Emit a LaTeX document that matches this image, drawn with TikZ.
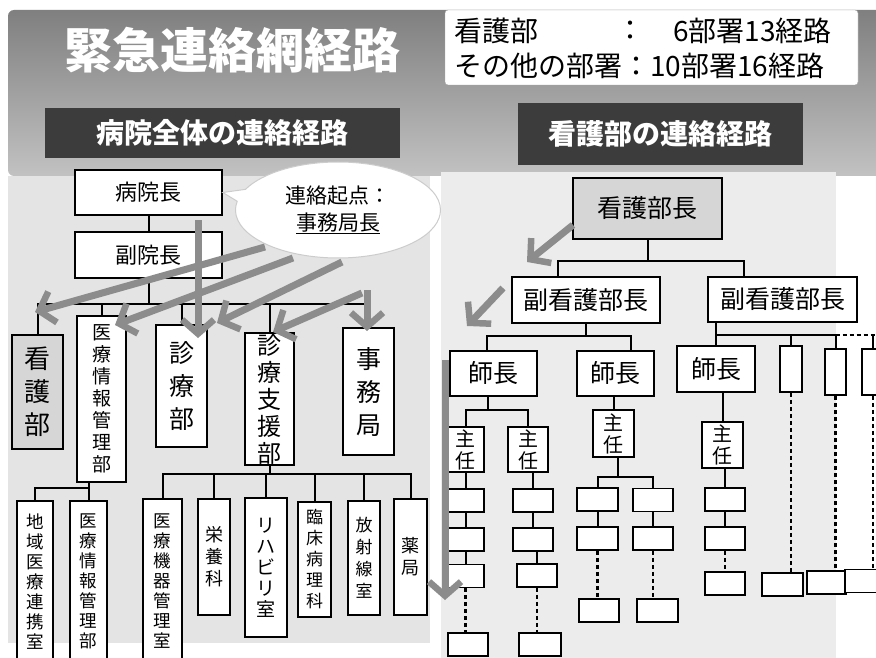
\documentclass[tikz,border=0pt]{standalone}
\usepackage{fontspec}
\setmainfont{Noto Sans CJK JP}
\usetikzlibrary{arrows.meta,shapes.callouts,calc}
\definecolor{agray}{HTML}{8C8C8C}
\definecolor{hdr}{HTML}{3C3C3C}
\definecolor{panelL}{HTML}{E4E4E4}
\definecolor{panelR}{HTML}{ECECEC}
\definecolor{boxgray}{HTML}{D6D6D6}
\newcommand{\fsz}[2]{\fontsize{#1}{#2}\selectfont}
\begin{document}
\begin{tikzpicture}[x=1pt,y=-1pt,
  box/.style={draw=black, line width=1.6pt, fill=white, inner sep=0pt, align=center, text=black},
  conn/.style={draw=black, line width=2pt},
  dconn/.style={draw=black, line width=2.4pt, dash pattern=on 4pt off 3pt},
  garrow/.style={draw=agray, line width=7pt, -{Straight Barb[length=14pt,width=32pt,line width=6.5pt]}},
  hdrbar/.style={fill=hdr, text=white, inner sep=0pt, font=\fsz{28}{28}\bfseries},
  sbox/.style={box, minimum height=23pt},
]
\useasboundingbox (0,0) rectangle (876,658);
% ---------- background ----------
\fill[white] (0,0) rectangle (876,658);
\shade[top color=black!50, bottom color=black!24, rounded corners=6pt] (8,10) rectangle (890,176);
\fill[panelL] (8,176) rectangle (430,643);
\fill[panelR] (441,172) rectangle (836,658);
% ---------- title and info ----------
\node[font=\fsz{48}{48}\bfseries, text=white] (title) at (232,50) {緊急連絡網経路};
\node[draw=black!35, fill=white, rounded corners=3pt, minimum width=413pt, minimum height=75pt, inner sep=0pt] (info) at (651.5,47.5) {};
\node[anchor=west, font=\fsz{28}{28}, inner sep=0pt] (i1a) at (454,31) {看護部};
\node[font=\fsz{28}{28}, inner sep=0pt] (i1b) at (630,31) {：};
\node[anchor=east, font=\fsz{28}{28}, inner sep=0pt] (i1c) at (832,31) {6部署13経路};
\node[anchor=west, font=\fsz{28}{28}, inner sep=0pt] (i2) at (454,66) {その他の部署：10部署16経路};
\node[hdrbar, minimum width=355pt, minimum height=50pt] (h1) at (222.5,133) {病院全体の連絡経路};
\node[hdrbar, minimum width=285pt, minimum height=62pt] (h2) at (660.5,134) {看護部の連絡経路};
% ---------- left tree ----------
\node[box, minimum width=147pt, minimum height=45pt, font=\fsz{22}{22}] (hp) at (148.5,192.5) {病院長};
\node[box, minimum width=147pt, minimum height=46pt, font=\fsz{22}{22}] (vp) at (148.5,255) {副院長};
\node[ellipse callout, draw=black!20, line width=1pt, fill=white, minimum width=205pt, minimum height=96pt,
      callout absolute pointer={(hp.east)}, align=center, font=\fsz{21}{27}, inner sep=0pt] (call) at (338,210)
      {連絡起点：\\\underline{事務局長}};
\node[box, fill=boxgray, minimum width=51pt, minimum height=114pt, font=\fsz{26}{33}] (kg) at (37.5,392) {看\\護\\部};
\node[box, minimum width=49pt, minimum height=166pt, font=\fsz{19}{22}] (iryo) at (101.5,399) {医\\療\\情\\報\\管\\理\\部};
\node[box, minimum width=51pt, minimum height=122pt, font=\fsz{25}{33}] (shinryo) at (181.5,386) {診\\療\\部};
\node[box, minimum width=49pt, minimum height=132pt, font=\fsz{24}{27}] (shien) at (269.5,399) {診\\療\\支\\援\\部};
\node[box, minimum width=51pt, minimum height=127pt, font=\fsz{25}{33}] (jimu) at (368.5,391.5) {事\\務\\局};
\node[box, anchor=north, minimum width=36pt, minimum height=162pt, font=\fsz{17.5}{20}] (chiiki) at (35,500) {地\\域\\医\\療\\連\\携\\室};
\node[box, anchor=north, minimum width=37pt, minimum height=162pt, font=\fsz{17.5}{20}] (iryo2) at (88.5,500) {医\\療\\情\\報\\管\\理\\部};
\node[box, anchor=north, minimum width=39pt, minimum height=164pt, font=\fsz{17.5}{20}] (kiki) at (162.5,498) {医\\療\\機\\器\\管\\理\\室};
\node[box, minimum width=32pt, minimum height=116pt, font=\fsz{18}{22}] (eiyo) at (214,557) {栄\\養\\科};
\node[box, minimum width=42pt, minimum height=139pt, font=\fsz{19}{21}] (reha) at (266,567.5) {リ\\ハ\\ビ\\リ\\室};
\node[box, minimum width=33pt, minimum height=115pt, font=\fsz{17}{21}] (rinsho) at (314.5,559.5) {臨\\床\\病\\理\\科};
\node[box, minimum width=32pt, minimum height=114pt, font=\fsz{17}{22}] (hosha) at (364,558) {放\\射\\線\\室};
\node[box, minimum width=33pt, minimum height=116pt, font=\fsz{18}{22}] (yaku) at (410.5,557) {薬\\局};
\coordinate (ib) at (0,488);
\coordinate (sb) at (0,474);
\draw[conn] (hp) -- (vp);
\draw[conn] (vp.south) -- ++(0,25) coordinate (lbus);
\draw[conn] (kg.north) |- (lbus) -| (jimu.north);
\draw[conn] (iryo.north) -- (iryo.north |- lbus);
\draw[conn] (shinryo.north) -- (shinryo.north |- lbus);
\draw[conn] (shien.north) -- (shien.north |- lbus);
\draw[conn] (iryo2.north) -- (iryo2.north |- iryo.south);
\draw[conn] (chiiki.north) -- (chiiki.north |- ib) -- (iryo2.north |- ib);
\draw[conn] (shien.south) -- (shien.south |- sb);
\draw[conn] (kiki.north) -- (kiki.north |- sb) -- (yaku.north |- sb) -- (yaku.north);
\foreach \n in {eiyo,reha,rinsho,hosha} \draw[conn] (\n.north) -- (\n.north |- sb);
% ---------- right tree ----------
\node[box, fill=boxgray, minimum width=149pt, minimum height=61pt, font=\fsz{25}{25}] (nd) at (647.5,208.5) {看護部長};
\node[box, minimum width=148pt, minimum height=46pt, font=\fsz{25}{25}] (vn1) at (586,300) {副看護部長};
\node[box, minimum width=149pt, minimum height=45pt, font=\fsz{25}{25}] (vn2) at (782.5,299.5) {副看護部長};
\node[box, minimum width=87pt, minimum height=45pt, font=\fsz{25}{25}] (sc1) at (493.5,373.5) {師長};
\node[box, minimum width=77pt, minimum height=45pt, font=\fsz{25}{25}] (sc2) at (615.5,373.5) {師長};
\node[box, minimum width=78pt, minimum height=46pt, font=\fsz{25}{25}] (sc3) at (716,369) {師長};
\node[box, minimum width=22pt, minimum height=46pt] (t1) at (791,369) {};
\node[box, minimum width=21pt, minimum height=46pt] (t2) at (835.5,372) {};
\node[box, minimum width=22pt, minimum height=46pt] (t3) at (873,372) {};
\node[box, minimum width=37pt, minimum height=45pt, font=\fsz{20}{22}] (sn1) at (465.5,449.5) {主\\任};
\node[box, minimum width=40pt, minimum height=45pt, font=\fsz{20}{22}] (sn2) at (528,449.5) {主\\任};
\node[box, minimum width=41pt, minimum height=47pt, font=\fsz{20}{22}] (sn3) at (613.5,433.5) {主\\任};
\node[box, minimum width=41pt, minimum height=46pt, font=\fsz{20}{22}] (sn4) at (722.5,445) {主\\任};
% small boxes
\node[sbox, minimum width=37pt] (a1) at (465.5,500.5) {};
\node[sbox, minimum width=37pt] (a2) at (465.5,539.5) {};
\node[sbox, minimum width=37pt] (a3) at (465.5,576) {};
\node[sbox, minimum width=40pt] (a4) at (468,644.5) {};
\node[sbox, minimum width=40pt] (b1) at (533,500.5) {};
\node[sbox, minimum width=40pt] (b2) at (533,539.5) {};
\node[sbox, minimum width=40pt] (b3) at (537,575.5) {};
\node[sbox, minimum width=42pt] (b4) at (540,644.5) {};
\node[sbox, minimum width=41pt] (c1) at (597.5,499.5) {};
\node[sbox, minimum width=41pt] (c2) at (597.5,538.5) {};
\node[sbox, minimum width=40pt] (c4) at (599,610.5) {};
\node[sbox, minimum width=40pt] (d1) at (653,500) {};
\node[sbox, minimum width=40pt] (d2) at (653,538.5) {};
\node[sbox, minimum width=41pt] (d4) at (657.5,610.5) {};
\node[sbox, minimum width=40pt] (e1) at (725,499.5) {};
\node[sbox, minimum width=40pt] (e2) at (725,538.5) {};
\node[sbox, minimum width=40pt] (e4) at (725,583.5) {};
\node[sbox, minimum width=41pt] (f4) at (782.5,584.5) {};
\node[sbox, minimum width=39pt] (g4) at (826.5,582.5) {};
\node[sbox, minimum width=40pt] (h4) at (865,581) {};
\coordinate (rb3) at (0,335);
\draw[conn] (nd.south) -- ++(0,21) coordinate (rb1);
\draw[conn] ([xshift=-28pt]vn1.north) |- (rb1) -| ([xshift=-38.5pt]vn2.north);
\draw[conn] (vn1.south) -- ++(0,12) coordinate (rb2);
\draw[conn] ([xshift=-6.5pt]sc1.north) |- (rb2) -| ([xshift=15.5pt]sc2.north);
\draw[conn] (sc3.north |- vn2.south) -- (sc3.north);
\draw[conn] (sc3.north |- rb3) -- (t2.north |- rb3) -- (t2.north);
\draw[conn] (t1.north) -- (t1.north |- rb3);
\draw[dconn] (t2.north |- rb3) -- (t3.north |- rb3) -- (880,335);
\draw[conn] (t3.north) -- (t3.north |- rb3);
\draw[conn] ([xshift=-5.5pt]sc1.south) -- ++(0,13) coordinate (rb4);
\draw[conn] (sn1.north) |- (rb4) -| (sn2.north);
\draw[conn] (sn3.north) -- (sn3.north |- sc2.south);
\draw[conn] ([xshift=4.5pt]sn3.south) -- ++(0,19) coordinate (rb5);
\draw[conn] (c1.north) |- (rb5) -| (d1.north);
\draw[conn] (sn4.north) -- (sn4.north |- sc3.south);
% columns
\draw[conn] (a1.north |- sn1.south) -- (a1.north);
\draw[conn] (a2.north |- a1.south) -- (a2.north);
\draw[conn] (a3.north |- a2.south) -- (a3.north);
\draw[dconn] (a3.south) -- (a3.south |- a4.north);
\draw[conn] (b1.north |- sn2.south) -- (b1.north);
\draw[conn] (b2.north |- b1.south) -- (b2.north);
\draw[conn] (b3.north |- b2.south) -- (b3.north);
\draw[dconn] (b3.south) -- (b3.south |- b4.north);
\draw[conn] (c2.north |- c1.south) -- (c2.north);
\draw[dconn] (c2.south) -- (c2.south |- c4.north);
\draw[conn] (d2.north |- d1.south) -- (d2.north);
\draw[dconn] (d2.south) -- (d2.south |- d4.north);
\draw[conn] (e1.north |- sn4.south) -- (e1.north);
\draw[conn] (e2.north |- e1.south) -- (e2.north);
\draw[dconn] (e2.south) -- (e2.south |- e4.north);
\draw[dconn] (t1.south) -- (t1.south |- f4.north);
\draw[dconn] (t2.south) -- (t2.south |- g4.north);
\draw[dconn] (t3.south) -- (t3.south |- h4.north);
% ---------- gray arrows ----------
\coordinate (s1) at (265,247); \coordinate (e1a) at (35,312);
\coordinate (s2) at (293,258); \coordinate (e2a) at (115,325);
\coordinate (s3) at (342,262); \coordinate (e3a) at (217,323);
\coordinate (s4) at (362,293); \coordinate (e4a) at (273,332);
\coordinate (s5) at (367,290); \coordinate (e5a) at (367,331);
\coordinate (s6) at (198,220); \coordinate (e6a) at (198,338);
\coordinate (s7) at (573,225); \coordinate (e7a) at (527,262);
\coordinate (s8) at (503,288); \coordinate (e8a) at (467,326);
\coordinate (s9) at (445,360); \coordinate (e9a) at (445,600);
\foreach \i in {1,...,9} \draw[garrow] (s\i) -- (e\i a);
\end{tikzpicture}
\end{document}
